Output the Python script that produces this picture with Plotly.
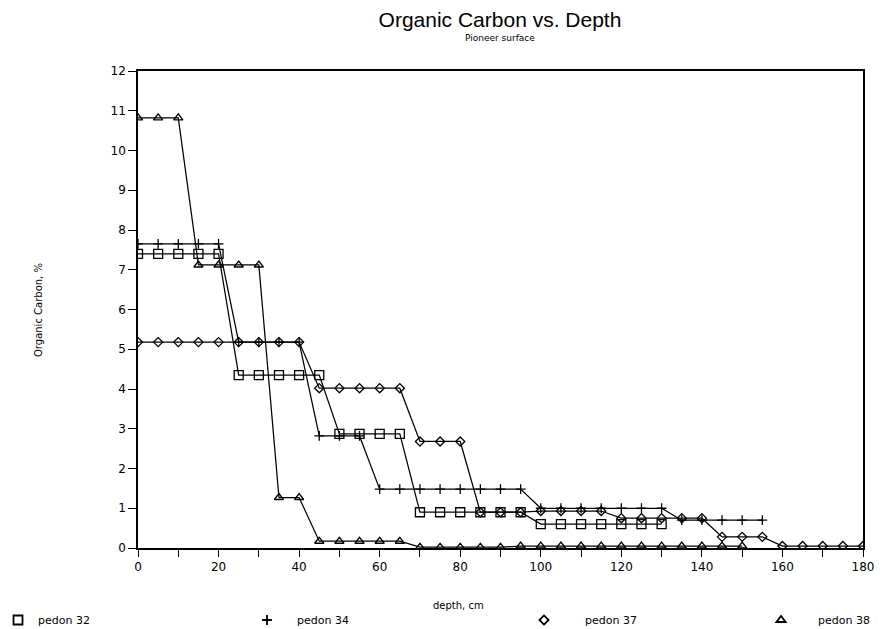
import plotly.graph_objects as go

# Organic carbon (%) by depth (cm) for four pedons on the Pioneer surface
depth_32 = [0, 5, 10, 15, 20, 25, 30, 35, 40, 45, 50, 55, 60, 65, 70, 75, 80, 85, 90, 95,
            100, 105, 110, 115, 120, 125, 130]
carbon_32 = [7.4, 7.4, 7.4, 7.4, 7.4, 4.35, 4.35, 4.35, 4.35, 4.35, 2.87, 2.87, 2.87, 2.87,
             0.9, 0.9, 0.9, 0.9, 0.9, 0.9, 0.6, 0.6, 0.6, 0.6, 0.6, 0.6, 0.6]

depth_34 = [0, 5, 10, 15, 20, 25, 30, 35, 40, 45, 50, 55, 60, 65, 70, 75, 80, 85, 90, 95,
            100, 105, 110, 115, 120, 125, 130, 135, 140, 145, 150, 155]
carbon_34 = [7.65, 7.65, 7.65, 7.65, 7.65, 5.18, 5.18, 5.18, 5.18, 2.82, 2.82, 2.82,
             1.48, 1.48, 1.48, 1.48, 1.48, 1.48, 1.48, 1.48,
             1.0, 1.0, 1.0, 1.0, 1.0, 1.0, 1.0, 0.7, 0.7, 0.7, 0.7, 0.7]

depth_37 = [0, 5, 10, 15, 20, 25, 30, 35, 40, 45, 50, 55, 60, 65, 70, 75, 80, 85, 90, 95,
            100, 105, 110, 115, 120, 125, 130, 135, 140, 145, 150, 155, 160, 165, 170, 175, 180]
carbon_37 = [5.18, 5.18, 5.18, 5.18, 5.18, 5.18, 5.18, 5.18, 5.18, 4.02, 4.02, 4.02, 4.02, 4.02,
             2.68, 2.68, 2.68, 0.9, 0.9, 0.9, 0.93, 0.93, 0.93, 0.93,
             0.75, 0.75, 0.75, 0.75, 0.75, 0.28, 0.28, 0.28, 0.05, 0.05, 0.05, 0.05, 0.05]

depth_38 = [0, 5, 10, 15, 20, 25, 30, 35, 40, 45, 50, 55, 60, 65, 70, 75, 80, 85, 90, 95,
            100, 105, 110, 115, 120, 125, 130, 135, 140, 145, 150]
carbon_38 = [10.82, 10.82, 10.82, 7.12, 7.12, 7.12, 7.12, 1.27, 1.27, 0.17, 0.17, 0.17, 0.17, 0.17,
             0.02, 0.02, 0.02, 0.02, 0.02, 0.05, 0.05, 0.05, 0.05, 0.05, 0.05, 0.05, 0.05,
             0.05, 0.05, 0.05, 0.05]

series_names = ["pedon 32", "pedon 34", "pedon 37", "pedon 38"]
symbols = ["square-open", "cross-thin-open", "diamond-open", "triangle-up-open"]
symbol_sizes = [9, 7, 7, 8]

x_ticks = [0, 10, 20, 30, 40, 50, 60, 70, 80, 90, 100, 110, 120, 130, 140, 150, 160, 170, 180]
x_tick_text = ["0", "", "20", "", "40", "", "60", "", "80", "", "100", "", "120", "", "140", "",
               "160", "", "180"]
y_ticks = list(range(0, 13))

FONT = "DejaVu Sans"
INK = "black"

fig = go.Figure()

data = [(depth_32, carbon_32), (depth_34, carbon_34), (depth_37, carbon_37), (depth_38, carbon_38)]
legend_ids = ["legend", "legend2", "legend3", "legend4"]

for (xs, ys), name, sym, sz, lg in zip(data, series_names, symbols, symbol_sizes, legend_ids):
    fig.add_trace(go.Scatter(
        x=xs, y=ys, mode="lines+markers", name=name, showlegend=False,
        line=dict(color=INK, width=1.25),
        marker=dict(symbol=sym, size=sz, color=INK, line=dict(color=INK, width=1.3)),
    ))
    # symbol-only entry for the key row under the axis
    fig.add_trace(go.Scatter(
        x=[None], y=[None], mode="markers", name=name, legend=lg,
        marker=dict(symbol=sym, size=sz, color=INK, line=dict(color=INK, width=1.8)),
    ))

# plot area in pixels: x 138..863, y 71..548
L, R, T, B = 138, 17, 71, 81
plot_w = 880 - L - R
plot_h = 629 - T - B


def px_to_paper_x(px):
    return (px - L) / plot_w


def px_to_paper_y(py):
    return (629 - B - py) / plot_h


legend_common = dict(orientation="h", yanchor="middle", xanchor="left",
                     font=dict(family=FONT, size=11, color=INK),
                     bgcolor="rgba(0,0,0,0)", tracegroupgap=0)
legend_x_px = [-2, 237, 503, 744]
legend_item_w = [30, 50, 72, 64]
layout_legends = {}
for lg, lx, iw in zip(legend_ids, legend_x_px, legend_item_w):
    layout_legends[lg] = dict(legend_common, x=px_to_paper_x(lx), y=px_to_paper_y(620),
                              itemwidth=iw)

fig.update_layout(
    width=880, height=629,
    margin=dict(l=L, r=R, t=T, b=B, autoexpand=False),
    paper_bgcolor="white", plot_bgcolor="white",
    font=dict(family=FONT, color=INK),
    title=dict(text="Organic Carbon vs. Depth", x=500 / 880, xref="container",
               xanchor="center", y=1 - 20 / 629, yanchor="middle",
               font=dict(family="Liberation Sans", size=21, color=INK)),
    **layout_legends,
)

fig.update_xaxes(
    range=[0, 180], tickmode="array", tickvals=x_ticks, ticktext=x_tick_text,
    ticks="outside", ticklen=7, tickwidth=1.2, tickcolor=INK,
    showline=True, linecolor=INK, linewidth=1.5, mirror=True,
    showgrid=False, zeroline=False,
    tickfont=dict(family=FONT, size=12, color=INK),
)
fig.update_yaxes(
    range=[0, 12], tickmode="array", tickvals=y_ticks,
    ticks="outside", ticklen=8, tickwidth=1.2, tickcolor=INK,
    showline=True, linecolor=INK, linewidth=1.5, mirror=True,
    showgrid=False, zeroline=False,
    tickfont=dict(family=FONT, size=12, color=INK),
)

fig.add_annotation(text="Pioneer surface", xref="paper", yref="paper",
                   x=px_to_paper_x(500), y=px_to_paper_y(38), showarrow=False,
                   font=dict(family=FONT, size=9, color=INK), xanchor="center", yanchor="middle")
fig.add_annotation(text="depth, cm", xref="paper", yref="paper",
                   x=px_to_paper_x(458), y=px_to_paper_y(605), showarrow=False,
                   font=dict(family=FONT, size=10, color=INK), xanchor="center", yanchor="middle")
fig.add_annotation(text="Organic Carbon, %", xref="paper", yref="paper", textangle=-90,
                   x=px_to_paper_x(38), y=px_to_paper_y(310), showarrow=False,
                   font=dict(family=FONT, size=10, color=INK), xanchor="center", yanchor="middle")

fig.write_html("out.html")
